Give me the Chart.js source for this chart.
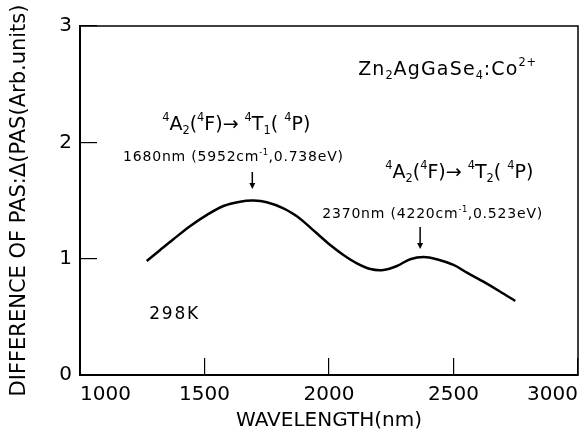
<!DOCTYPE html>
<html><head><meta charset="utf-8">
<script src="https://cdn.jsdelivr.net/npm/chart.js@4/dist/chart.umd.min.js"></script>
<style>html,body{margin:0;padding:0;background:#fff}canvas{display:block}</style>
</head><body>
<canvas id="c" width="587" height="441"></canvas>
<script>
// ---- data ----
const wavelengths = [1268, 1322, 1375, 1443, 1510, 1576, 1643, 1697, 1750, 1817, 1871, 1898, 1951, 2005, 2058, 2112, 2166, 2219, 2273, 2326, 2380, 2433, 2500, 2554, 2620, 2688, 2748];
const pasValues   = [0.980, 1.075, 1.167, 1.281, 1.376, 1.453, 1.490, 1.499, 1.485, 1.433, 1.365, 1.318, 1.218, 1.118, 1.032, 0.960, 0.911, 0.903, 0.937, 0.995, 1.015, 0.995, 0.946, 0.880, 0.802, 0.716, 0.636];
const xTicks = [1000, 1500, 2000, 2500, 3000];
const yTicks = [0, 1, 2, 3];
const xTitle = 'WAVELENGTH(nm)';
const yTitle = 'DIFFERENCE OF PAS:\u0394(PAS(Arb.units)';

// text annotations: parts [text, mode] ; mode '' normal, 'sup', 'sub'
const labelSample = [['Zn',''],['2','sub'],['AgGaSe',''],['4','sub'],[':Co',''],['2+','sup']];
const labelT1 = [['4','sup'],['A',''],['2','sub'],['(',''],['4','sup'],['F)\u2192 ',''],['4','sup'],['T',''],['1','sub'],['( ',''],['4','sup'],['P)','']];
const labelT2 = [['4','sup'],['A',''],['2','sub'],['(',''],['4','sup'],['F)\u2192 ',''],['4','sup'],['T',''],['2','sub'],['( ',''],['4','sup'],['P)','']];
const labelPeak1 = [['1680nm (5952cm',''],['-1','sup'],[',0.738eV)','']];
const labelPeak2 = [['2370nm (4220cm',''],['-1','sup'],[',0.523eV)','']];
const labelTemp = [['298K','']];

// annotation placement (data coordinates)
const annotations = [
  {parts: labelSample, x: 2117, y: 2.580, size: 19, ls: 1.2},
  {parts: labelT1,     x: 1330, y: 2.107, size: 19, ls: 0},
  {parts: labelPeak1,  x: 1173, y: 1.836, size: 14, ls: 0.8},
  {parts: labelT2,     x: 2226, y: 1.694, size: 19, ls: 0},
  {parts: labelPeak2,  x: 1973, y: 1.346, size: 14, ls: 0.8},
  {parts: labelTemp,   x: 1278, y: 0.482, size: 17, ls: 1.8}
];
const arrows = [
  {x: 1692, y1: 1.745, y2: 1.599},
  {x: 2366, y1: 1.273, y2: 1.083}
];

const FONT = "'DejaVu Sans', sans-serif";

function drawRich(ctx, parts, x, y, size, ls) {
  let cx = x;
  for (const [t, m] of parts) {
    const s = m ? size * 0.6 : size;
    const dy = m === 'sup' ? -size * 0.45 : (m === 'sub' ? size * 0.22 : 0);
    ctx.font = s + 'px ' + FONT;
    ctx.letterSpacing = (m ? ls * 0.5 : ls) + 'px';
    ctx.fillText(t, cx, y + dy);
    cx += ctx.measureText(t).width;
  }
}

const framePlugin = {
  id: 'frame',
  beforeDatasetsDraw(chart) {
    const {ctx, chartArea: a} = chart;
    ctx.save();
    ctx.strokeStyle = '#000';
    ctx.lineWidth = 1.5;
    ctx.strokeRect(a.left, a.top, a.right - a.left, a.bottom - a.top);
    ctx.restore();
  }
};

const annotPlugin = {
  id: 'annot',
  afterDatasetsDraw(chart) {
    const {ctx, scales: {x, y}} = chart;
    ctx.save();
    ctx.fillStyle = '#000';
    ctx.strokeStyle = '#000';
    ctx.textBaseline = 'alphabetic';
    ctx.textAlign = 'left';
    for (const a of annotations) {
      drawRich(ctx, a.parts, x.getPixelForValue(a.x), y.getPixelForValue(a.y), a.size, a.ls);
    }
    ctx.letterSpacing = '0px';
    for (const r of arrows) {
      const px = x.getPixelForValue(r.x);
      const p1 = y.getPixelForValue(r.y1);
      const p2 = y.getPixelForValue(r.y2);
      ctx.lineWidth = 1.5;
      ctx.beginPath();
      ctx.moveTo(px, p1);
      ctx.lineTo(px, p2 - 5);
      ctx.stroke();
      ctx.beginPath();
      ctx.moveTo(px - 3, p2 - 6);
      ctx.lineTo(px + 3, p2 - 6);
      ctx.lineTo(px, p2);
      ctx.closePath();
      ctx.fill();
    }
    ctx.restore();
  }
};

new Chart(document.getElementById('c').getContext('2d'), {
  type: 'line',
  data: {
    datasets: [{
      data: wavelengths.map((w, i) => ({x: w, y: pasValues[i]})),
      borderColor: '#000',
      borderWidth: 2.5,
      pointRadius: 0,
      tension: 0.35,
      fill: false
    }]
  },
  options: {
    responsive: false,
    devicePixelRatio: 1,
    animation: false,
    layout: {padding: {top: 26, right: 9, left: 0, bottom: 0}},
    plugins: {legend: {display: false}, tooltip: {enabled: false}},
    scales: {
      x: {
        type: 'linear', min: 1000, max: 3000,
        afterBuildTicks: s => { s.ticks = xTicks.map(v => ({value: v})); },
        afterFit: s => { s.height = 66; s.paddingLeft = 0; s.paddingRight = 0; },
        ticks: {align: 'inner', padding: 25, color: '#000', font: {family: FONT, size: 20}, maxRotation: 0, autoSkip: false, callback: v => String(v)},
        grid: {drawOnChartArea: false, drawTicks: true, tickLength: -17, color: '#000', lineWidth: 1.2},
        border: {color: '#000', width: 2},
        title: {display: true, text: xTitle, color: '#000', font: {family: FONT, size: 20}, padding: {top: 0, bottom: 8}}
      },
      y: {
        type: 'linear', min: 0, max: 3,
        afterBuildTicks: s => { s.ticks = yTicks.map(v => ({value: v})); },
        afterFit: s => { s.width = 80; s.paddingTop = 0; s.paddingBottom = 0; },
        ticks: {padding: 25, color: '#000', font: {family: FONT, size: 20}, callback: v => String(v)},
        grid: {drawOnChartArea: false, drawTicks: true, tickLength: -17, color: '#000', lineWidth: 1.2},
        border: {color: '#000', width: 2},
        title: {display: true, text: yTitle, color: '#000', font: {family: FONT, size: 21}, padding: {top: 7, bottom: 0}}
      }
    }
  },
  plugins: [framePlugin, annotPlugin]
});
</script>
</body></html>
